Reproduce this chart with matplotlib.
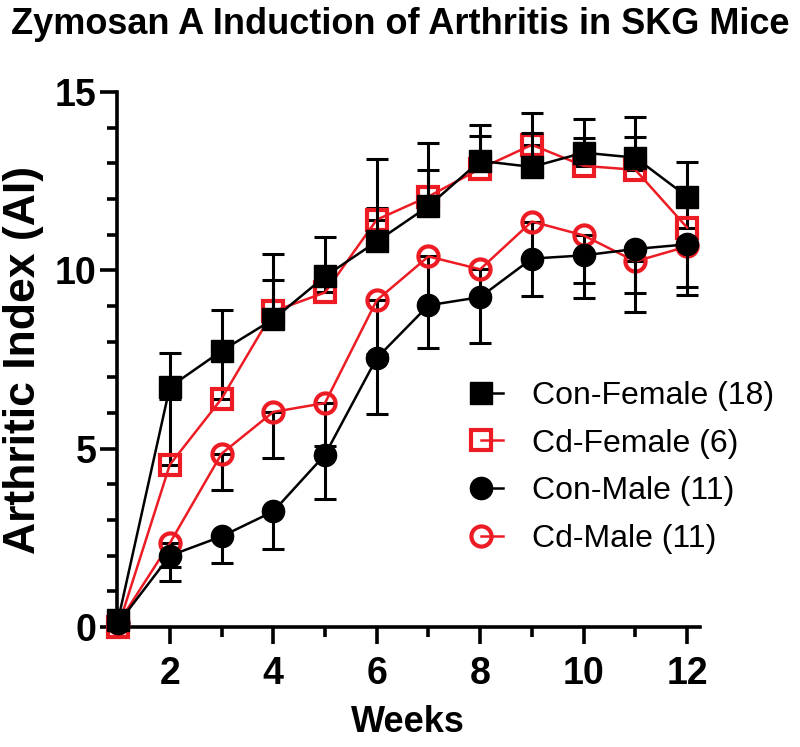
"""
Zymosan A induced arthritis in SKG mice, arthritic index by week
"""

import numpy as np
import matplotlib
matplotlib.use('Agg')
from matplotlib import pyplot as plt
from matplotlib import font_manager
from matplotlib.lines import Line2D
from matplotlib.legend_handler import HandlerLine2DCompound

weeks = [1, 2, 3, 4, 5, 6, 7, 8, 9, 10, 11, 12]

con_female = [0.2, 6.73, 7.74, 8.63, 9.83, 10.81, 11.8, 13.07, 12.9, 13.3, 13.16, 12.07]
con_female_err = [0, 0.95, 1.16, 1.82, 1.1, 2.32, 1.77, 1.0, 0.95, 0.95, 1.14, 0.97]

cd_female = [0.0, 4.55, 6.4, 8.85, 9.38, 11.42, 12.07, 12.85, 13.52, 12.93, 12.82, 11.2]
cd_female_err = [0, 1.85, 1.3, 0.87, 0.4, 0.34, 0.75, 0.92, 0.88, 0.77, 0.93, 0.8]

con_male = [0.1, 2.0, 2.54, 3.24, 4.83, 7.54, 9.02, 9.25, 10.33, 10.42, 10.6, 10.73]
con_male_err = [0, 0.72, 0.75, 1.04, 1.23, 1.56, 1.2, 1.29, 1.06, 1.2, 1.78, 1.43]

cd_male = [0.1, 2.35, 4.86, 6.03, 6.28, 9.16, 10.39, 10.03, 11.37, 10.98, 10.25, 10.67]
cd_male_err = [0, 0.68, 1.03, 1.28, 1.2, 1.5, 1.3, 0.8, 1.05, 1.34, 0.89, 1.15]

labels = ['Con-Female (18)', 'Cd-Female (6)', 'Con-Male (11)', 'Cd-Male (11)']

RED = '#ED1C24'
plt.rcParams['font.family'] = ['Liberation Sans', 'DejaVu Sans']

names = {f.name for f in font_manager.fontManager.ttflist}
if 'Liberation Sans Narrow' in names:
    title_font, title_size = 'Liberation Sans Narrow', 28
else:
    title_font, title_size = 'Liberation Sans', 26


class MarkerFirst(HandlerLine2DCompound):
    # GraphPad style legend: marker on the left, short line to the right
    def get_xdata(self, legend, xdescent, ydescent, width, height, fontsize):
        return (np.array([-xdescent, -xdescent + width]),
                np.array([-xdescent]))


fig = plt.figure(figsize=(8, 7.47), dpi=100)
ax = fig.add_axes([0.146, 0.1606, 0.729, 0.7162])

# series: values, error, upper/lower, marker, colour, filled, zorder
series = [
    (cd_male, cd_male_err, 'down', 'o', RED, False, 3),
    (cd_female, cd_female_err, 'up', 's', RED, False, 4),
    (con_female, con_female_err, 'up', 's', 'black', True, 5),
    (con_male, con_male_err, 'down', 'o', 'black', True, 6),
]

for vals, err, side, mk, col, filled, z in series:
    zeros = np.zeros(len(err))
    yerr = [zeros, err] if side == 'up' else [err, zeros]
    ax.errorbar(weeks, vals, yerr=yerr, fmt='none', ecolor='black',
                elinewidth=2.2, capsize=8, capthick=2.2, zorder=z - 0.5,
                clip_on=False)
    if filled:
        ax.plot(weeks, vals, color=col, lw=1.8, marker=mk, ms=16,
                mfc=col, mec=col, mew=1, zorder=z, clip_on=False)
    else:
        ax.plot(weeks, vals, color=col, lw=1.8, marker=mk, ms=14.5,
                mfc='none', mec=col, mew=3, zorder=z, clip_on=False)

handles = [
    Line2D([], [], color='black', lw=1.8, marker='s', ms=16, mfc='black', mec='black', mew=1),
    Line2D([], [], color=RED, lw=1.8, marker='s', ms=14.5, mfc='none', mec=RED, mew=3),
    Line2D([], [], color='black', lw=1.8, marker='o', ms=16, mfc='black', mec='black', mew=1),
    Line2D([], [], color=RED, lw=1.8, marker='o', ms=14.5, mfc='none', mec=RED, mew=3),
]
ax.legend(handles, labels, loc='upper left', bbox_to_anchor=(481 / 800, 1 - 381 / 747),
          bbox_transform=fig.transFigure, frameon=False, fontsize=23,
          handlelength=0.7, handletextpad=0.9, labelspacing=0.55,
          borderpad=0, borderaxespad=0,
          handler_map={Line2D: MarkerFirst()})

ax.set_xlim(0.975, 12.25)
ax.set_ylim(0, 15)
ax.set_xticks([2, 4, 6, 8, 10, 12])
ax.set_xticks([3, 5, 7, 9, 11], minor=True)
ax.set_yticks([0, 5, 10, 15])
ax.set_yticks(np.arange(0, 16), minor=True)

for side in ['top', 'right']:
    ax.spines[side].set_visible(False)
for side in ['left', 'bottom']:
    ax.spines[side].set_linewidth(2.6)

ax.tick_params(axis='both', which='major', direction='out', length=12.5, width=2.6,
               labelsize=27)
ax.tick_params(axis='both', which='minor', direction='out', length=7, width=2.6)
ax.tick_params(axis='x', which='major', pad=8)
ax.tick_params(axis='y', which='major', pad=2)
for lab in ax.get_xticklabels() + ax.get_yticklabels():
    lab.set_fontweight('bold')

ax.set_xlabel('Weeks', fontsize=26, fontweight='bold', labelpad=10)
ax.set_ylabel('Arthritic Index (AI)', fontsize=32, fontweight='bold', labelpad=8)

fig.text(0.5, 0.99, 'Zymosan A Induction of Arthritis in SKG Mice',
         ha='center', va='top', fontsize=title_size, fontweight='bold',
         family=title_font)

fig.savefig('out.png', dpi=100)
